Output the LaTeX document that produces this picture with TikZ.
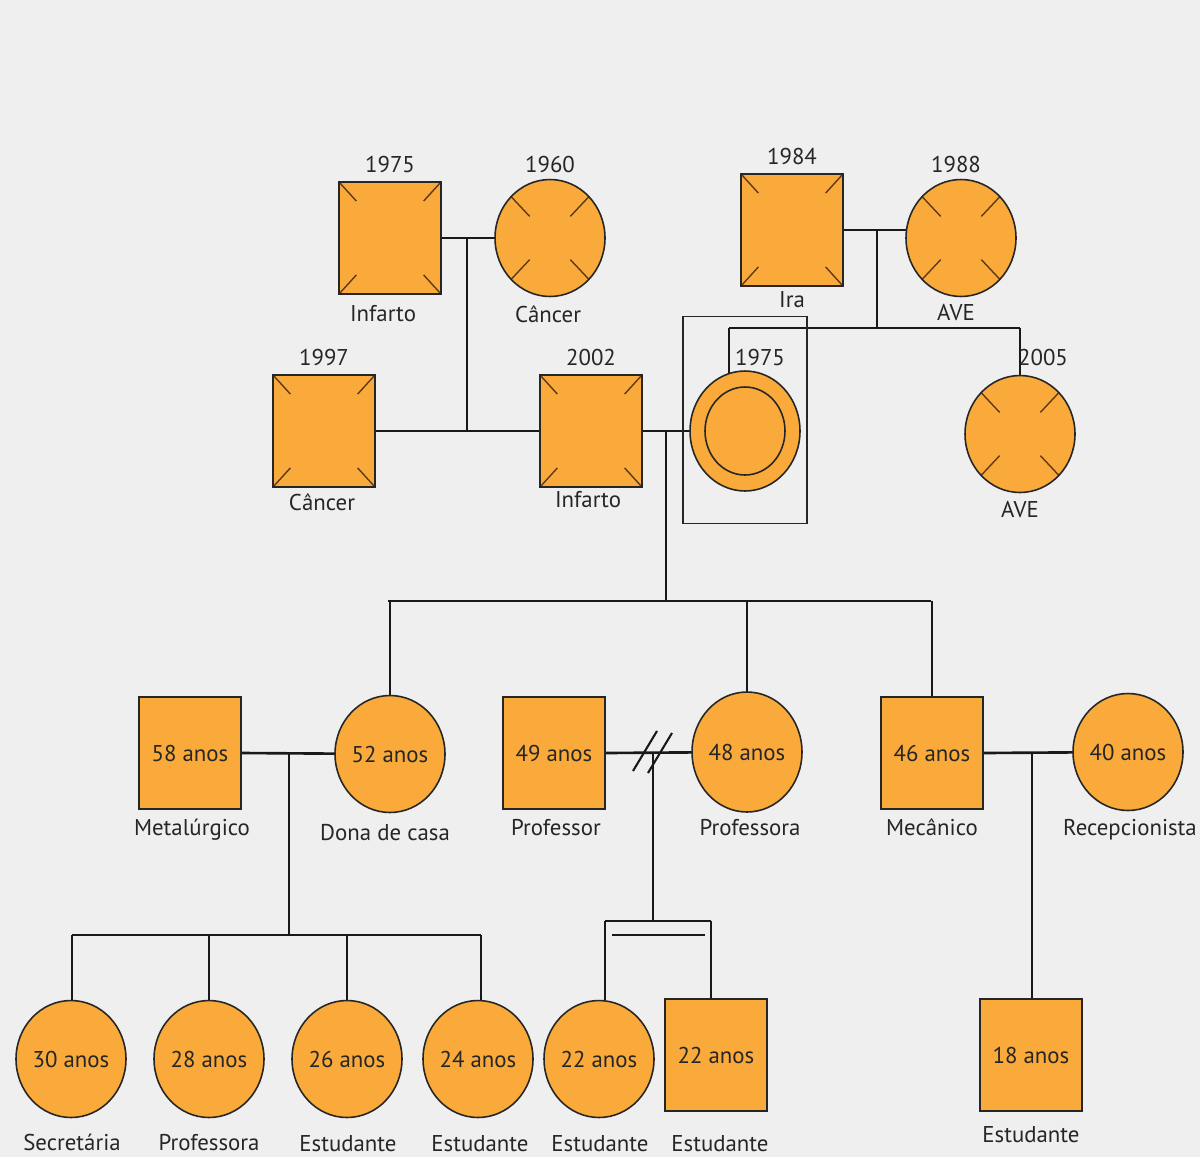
\documentclass[tikz,border=0pt]{standalone}
\usepackage{fontspec}
\setmainfont{PT Sans}
\usetikzlibrary{shapes.geometric,calc}

\definecolor{pedorange}{RGB}{249,170,58}
\definecolor{paperbg}{RGB}{239,239,239}
\definecolor{markbrown}{RGB}{95,58,22}

\pgfdeclarelayer{paper}
\pgfdeclarelayer{links}
\pgfsetlayers{paper,links,main}

\begin{document}
\begin{tikzpicture}[
  x=0.02cm, y=-0.02cm,
  font=\fontsize{13}{15}\selectfont,
  text=black!85,
  person/.style={
    draw=black!85,
    line width=0.9pt,
    fill=pedorange,
    inner sep=0pt
  },
  male/.style={person, rectangle, minimum width=2.04cm, minimum height=2.24cm},
  female/.style={person, ellipse, minimum width=2.2cm, minimum height=2.34cm},
  markline/.style={draw=markbrown, line width=0.8pt},
  deadsq/.style={
    path picture={
      \foreach \c in {north east,north west,south east,south west}
        \draw[markline] ($(path picture bounding box.center)!0.66!(path picture bounding box.\c)$)
          -- (path picture bounding box.\c);
    }
  },
  deadcirc/.style={
    path picture={
      \foreach \c in {north east,north west,south east,south west}
        \draw[markline] ($(path picture bounding box.center)!0.37!(path picture bounding box.\c)$)
          -- ($(path picture bounding box.center)!0.76!(path picture bounding box.\c)$);
    }
  },
  link/.style={draw=black!90, line width=1.5pt},
  infotext/.style={inner sep=0pt, text height=8.5pt, text depth=0pt},
  probandbox/.style={draw=black!85, line width=0.9pt, inner sep=0pt}
]

\begin{pgfonlayer}{paper}
  \fill[paperbg] (0,0) rectangle (1200,1157);
\end{pgfonlayer}
\useasboundingbox (0,0) rectangle (1200,1157);

% generation I
\node[male, deadsq] (A) at (390,238) {};
\node[female, deadcirc] (B) at (550,238) {};
\node[male, deadsq] (C) at (792,230) {};
\node[female, deadcirc] (D) at (961,238) {};

\node[infotext] (yearA) at (390,165) {1975};
\node[infotext] (noteA) at (383,314) {Infarto};
\node[infotext] (yearB) at (550,165) {1960};
\node[infotext] (noteB) at (548,315) {Câncer};
\node[infotext] (yearC) at (792,157) {1984};
\node[infotext] (noteC) at (792,300) {Ira};
\node[infotext] (yearD) at (956,165) {1988};
\node[infotext] (noteD) at (956,313) {AVE};

% generation II
\node[male, deadsq] (G) at (324,431) {};
\node[male, deadsq] (H) at (591,431) {};
\node[female, minimum height=2.4cm] (E) at (745,431) {};
\node[ellipse, draw=black!85, line width=0.9pt, minimum width=1.6cm, minimum height=1.76cm] (Einner) at (E.center) {};
\node[probandbox, minimum width=2.48cm, minimum height=4.14cm] (frameE) at (745,420) {};
\node[female, deadcirc] (F) at (1020,434) {};

\node[infotext] (yearG) at (324,358) {1997};
\node[infotext] (noteG) at (322,503) {Câncer};
\node[infotext] (yearH) at (591,358) {2002};
\node[infotext] (noteH) at (588,500) {Infarto};
\node[infotext] (yearE) at (760,358) {1975};
\node[infotext] (yearF) at (1043,358) {2005};
\node[infotext] (noteF) at (1020,510) {AVE};

% generation III
\node[male] (I) at (190,753) {58 anos};
\node[female] (J) at (390,754) {52 anos};
\node[male] (K) at (554,753) {49 anos};
\node[female, minimum height=2.4cm] (L) at (747,752) {48 anos};
\node[male] (M) at (932,753) {46 anos};
\node[female] (N) at (1128,752) {40 anos};

\node[infotext] (noteI) at (192,828) {Metalúrgico};
\node[infotext] (noteJ) at (385,833) {Dona de casa};
\node[infotext] (noteK) at (556,828) {Professor};
\node[infotext] (noteL) at (750,828) {Professora};
\node[infotext] (noteM) at (932,828) {Mecânico};
\node[infotext] (noteN) at (1130,828) {Recepcionista};

% generation IV
\node[female] (P1) at (71,1059) {30 anos};
\node[female] (P2) at (209,1059) {28 anos};
\node[female] (P3) at (347,1059) {26 anos};
\node[female] (P4) at (478,1059) {24 anos};
\node[female] (P5) at (599,1059) {22 anos};
\node[male] (P6) at (716,1055) {22 anos};
\node[male] (P7) at (1031,1055) {18 anos};

\node[infotext] (noteP1) at (72,1143) {Secretária};
\node[infotext] (noteP2) at (209,1143) {Professora};
\node[infotext] (noteP3) at (348,1144) {Estudante};
\node[infotext] (noteP4) at (480,1144) {Estudante};
\node[infotext] (noteP5) at (600,1144) {Estudante};
\node[infotext] (noteP6) at (720,1144) {Estudante};
\node[infotext] (noteP7) at (1031,1135) {Estudante};

% junctions
\coordinate (ab) at (467,238);
\coordinate (gh) at (467,431);
\coordinate (cd) at (877,230);
\coordinate (sibE) at (729,328);
\coordinate (sibF) at (1020,328);
\coordinate (he) at (666,431);
\coordinate (sibL) at (388,601);
\coordinate (sibR) at (931,601);
\coordinate (ij) at (289,753);
\coordinate (kidsL) at (72,935);
\coordinate (kidsR) at (481,935);
\coordinate (kl) at (653,753);
\coordinate (twinL) at (605,921);
\coordinate (twinR) at (711,921);
\coordinate (mn) at (1032,753);
\coordinate (slash1) at (645,751);
\coordinate (slash2) at (660,753);

\begin{pgfonlayer}{links}
  \draw[link] (A.east) -- (B.west);
  \draw[link] (ab) -- (gh);
  \draw[link] (G.east) -- (H.west);
  \draw[link] (C.east) -- (C.east -| D.center);
  \draw[link] (cd) -- (cd |- sibE);
  \draw[link] (sibE) -- (sibF);
  \draw[link] (sibE) -- (sibE |- E.center);
  \draw[link] (sibF) -- (F.center);
  \draw[link] (H.east) -- (E.center);
  \draw[link] (he) -- (he |- sibL);
  \draw[link] (sibL) -- (sibR);
  \foreach \n in {J, L, M}
    \draw[link] (sibL -| \n.center) -- (\n.center);
  \draw[link] (I.east) -- (J.center);
  \draw[link] (ij) -- (ij |- kidsL);
  \draw[link] (kidsL) -- (kidsR);
  \draw[link] (kidsL) -- (kidsL |- P1.center);
  \draw[link] (kidsL -| P2.center) -- (P2.center);
  \draw[link] (kidsL -| P3.center) -- (P3.center);
  \draw[link] (kidsR) -- (kidsR |- P4.center);
  \draw[link] (K.east) -- (L.center);
  \draw[link] (kl) -- (kl |- twinL);
  \draw[link] (twinL) -- (twinR);
  \draw[link] (twinL) -- (twinL |- P5.center);
  \draw[link] (twinR) -- (twinR |- P6.center);
  \draw[link] (M.east) -- (N.center);
  \draw[link] (mn) -- (mn |- P7.center);
\end{pgfonlayer}

% divorce and twin bars
\draw[link, line width=1.2pt] ([shift={(-12,20)}]slash1) -- ([shift={(12,-20)}]slash1);
\draw[link, line width=1.2pt] ([shift={(-12,20)}]slash2) -- ([shift={(12,-20)}]slash2);
\draw[link] ([xshift=0.14cm,yshift=-0.28cm]twinL) -- ([xshift=-0.12cm,yshift=-0.28cm]twinR);

\end{tikzpicture}
\end{document}
